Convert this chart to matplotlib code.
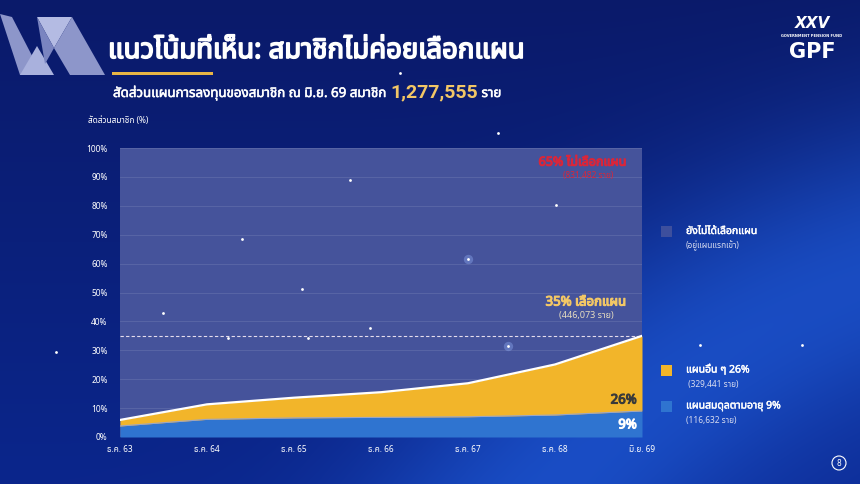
import numpy as np
import matplotlib
matplotlib.use("Agg")
import matplotlib.pyplot as plt
from matplotlib import font_manager
from matplotlib.ft2font import FT2Font
from matplotlib.patches import Polygon, Circle, Rectangle
import matplotlib.patheffects as pe

# ---------------- data ----------------
categories = ['ธ.ค. 63', 'ธ.ค. 64', 'ธ.ค. 65', 'ธ.ค. 66', 'ธ.ค. 67', 'ธ.ค. 68', 'มิ.ย. 69']
balanced = [3.8, 6.1, 6.6, 6.8, 7.0, 7.6, 9.0]      # แผนสมดุลตามอายุ
others = [2.1, 5.2, 7.0, 8.7, 11.6, 17.5, 26.0]     # แผนอื่น ๆ
y_ticks = [0, 10, 20, 30, 40, 50, 60, 70, 80, 90, 100]
chosen_level = 35

title = 'แนวโน้มที่เห็น: สมาชิกไม่ค่อยเลือกแผน'
subtitle_a = 'สัดส่วนแผนการลงทุนของสมาชิก ณ มิ.ย. 69 สมาชิก '
subtitle_num = '1,277,555'
subtitle_b = ' ราย'
ylabel = 'สัดส่วนสมาชิก (%)'

# ---------------- fonts ----------------
pref = ['Noto Sans Thai', 'Noto Sans Thai Looped', 'Sarabun', 'Kanit', 'Prompt',
        'Loma', 'Garuda', 'Norasi', 'Tlwg Typo', 'Waree']
thai = []
names = set()
for f in font_manager.fontManager.ttflist:
    names.add(f.name)
    try:
        ft = FT2Font(f.fname)
        if ft.get_char_index(0x0E01) and f.name not in thai:
            thai.append(f.name)
    except Exception:
        pass
thai_font = None
for p in pref:
    if p in thai:
        thai_font = p
        break
if thai_font is None and thai:
    thai_font = thai[0]
fams = ([thai_font] if thai_font else []) + ['DejaVu Sans']
plt.rcParams['font.family'] = fams
narrow = (['Liberation Sans Narrow'] if 'Liberation Sans Narrow' in names else ['Roboto']) + fams


def bold(c, w=0.7):
    return [pe.withStroke(linewidth=w, foreground=c)]


W, H = 860, 484
fig = plt.figure(figsize=(W / 100, H / 100), dpi=100)

# ---------------- background ----------------
bg = fig.add_axes([0, 0, 1, 1], zorder=0)
bg.set_xlim(0, W)
bg.set_ylim(H, 0)
bg.axis('off')

yy, xx = np.mgrid[0:H, 0:W].astype(float)
top = np.array([0x0a, 0x1a, 0x6a]) / 255
bot = np.array([0x0b, 0x26, 0x8c]) / 255
t = (yy / H)[..., None]
img = top * (1 - t) + bot * t
d = np.sqrt((xx - 1150) ** 2 + (yy - 1050) ** 2)
band = np.exp(-((d - 820) / 150) ** 2)
glow = np.array([0x1e, 0x5a, 0xd8]) / 255
img = img * (1 - 0.75 * band[..., None]) + glow * 0.75 * band[..., None]
inner = np.clip((760 - d) / 200, 0, 1)
img = img * (1 - 0.35 * inner[..., None]) + (np.array([0x10, 0x35, 0xa8]) / 255) * 0.35 * inner[..., None]
bg.imshow(np.clip(img, 0, 1), extent=(0, W, H, 0), aspect='auto', zorder=0)

# decorative M-shape top-left
polys = [
    ([(0, 14), (12, 17), (42, 75), (20, 75)], '#8d96ca'),
    ([(20, 75), (37, 46), (54, 75)], '#a9b1dd'),
    ([(37, 17), (72, 17), (54, 48)], '#b4bbe3'),
    ([(37, 17), (54, 48), (45, 64)], '#7a84c0'),
    ([(72, 17), (105, 75), (70, 75), (54, 48)], '#8d96ca'),
]
for pts, c in polys:
    bg.add_patch(Polygon(pts, closed=True, color=c, lw=0, zorder=1))

# title
bg.text(108, 51, title, color='white', fontsize=19.8, va='center', ha='left', zorder=3,
        path_effects=bold('white', 1.2))
bg.add_patch(Rectangle((112, 72), 101, 3, color='#e8b545', lw=0, zorder=3))

# subtitle chained
fig.canvas.draw()
r = fig.canvas.get_renderer()
t1 = bg.text(113, 97, subtitle_a, color='white', fontsize=9.6, va='baseline', ha='left', zorder=3,
             path_effects=bold('white', 0.4))
ext = t1.get_window_extent(r)
x1 = bg.transData.inverted().transform((ext.x1, ext.y0))[0]
t2 = bg.text(x1 + 1, 97.5, subtitle_num, color='#f2c766', fontsize=14, fontweight='bold',
             family=narrow, va='baseline', ha='left', zorder=3)
ext2 = t2.get_window_extent(r)
x2 = bg.transData.inverted().transform((ext2.x1, ext2.y0))[0]
bg.text(x2, 97, subtitle_b, color='white', fontsize=9.6, va='baseline', ha='left', zorder=3,
        path_effects=bold('white', 0.4))

bg.text(88, 121, ylabel, color='white', fontsize=6, va='center', ha='left', zorder=3)

# legend
leg = [
    (231.5, '#3d4f9d', 'ยังไม่ได้เลือกแผน', '(อยู่แผนแรกเข้า)'),
    (370, '#f2b52a', 'แผนอื่น ๆ 26%', ' (329,441 ราย)'),
    (406, '#2f74d0', 'แผนสมดุลตามอายุ 9%', '(116,632 ราย)'),
]
for yc, c, a, b in leg:
    bg.add_patch(Rectangle((661, yc - 5.5), 11, 11, color=c, lw=0, zorder=3))
    bg.text(686, yc, a, color='white', fontsize=7.5, va='center', ha='left', zorder=3,
            path_effects=bold('white', 0.3))
    bg.text(686, yc + 14, b, color='#d8dcf0', fontsize=6, va='center', ha='left', zorder=3)

# logo
bg.text(812, 24, 'XXV', color='white', fontsize=11, fontweight='bold', va='center', ha='center',
        family='DejaVu Sans', style='italic', zorder=3)
bg.text(812, 36, 'GOVERNMENT PENSION FUND', color='white', fontsize=2.6, va='center', ha='center',
        family='DejaVu Sans', fontweight='bold', zorder=3)
bg.text(812, 52, 'GPF', color='white', fontsize=15, fontweight='bold', va='center', ha='center',
        family='DejaVu Sans', zorder=3)

# page number
bg.add_patch(Circle((839, 463), 7, facecolor='none', edgecolor='white', lw=0.8, zorder=3))
bg.text(839, 463.5, '8', color='white', fontsize=5.5, va='center', ha='center', family='DejaVu Sans', zorder=3)

# ---------------- main chart ----------------
L, R, T, B = 120, 642, 148, 437
ax = fig.add_axes([L / W, 1 - B / H, (R - L) / W, (B - T) / H], zorder=2)
ax.set_facecolor('#45539b')
x = np.arange(len(categories))
bal = np.array(balanced)
tot = bal + np.array(others)
ax.fill_between(x, 0, bal, color='#2f74d0', lw=0, zorder=2)
ax.fill_between(x, bal, tot, color='#f2b52a', lw=0, zorder=2)
ax.plot(x, bal, color='#9aa6c8', lw=0.8, zorder=3)
ax.plot(x, tot, color='white', lw=1.6, zorder=4)
ax.axhline(chosen_level, color='#e4dced', lw=0.8, ls=(0, (3, 2)), zorder=1)

ax.set_xlim(0, len(categories) - 1)
ax.set_ylim(0, 100)
ax.set_yticks(y_ticks)
ax.set_yticklabels([f'{v}%' for v in y_ticks])
ax.set_xticks(x)
ax.set_xticklabels(categories)
ax.tick_params(colors='white', labelsize=6, length=0)
ax.tick_params(axis='y', pad=9)
ax.tick_params(axis='x', pad=6)
ax.grid(axis='y', color='white', alpha=0.12, lw=0.6, zorder=0)
ax.set_axisbelow(True)
for s in ax.spines.values():
    s.set_visible(False)

# annotations inside plot
ax.text(0.97, 0.951, '65% ไม่เลือกแผน', transform=ax.transAxes, color='#d9263a', fontsize=9,
        ha='right', va='center', zorder=5, path_effects=bold('#d9263a', 0.8))
ax.text(0.945, 0.906, '(831,482 ราย)', transform=ax.transAxes, color='#d9263a', fontsize=6,
        ha='right', va='center', zorder=5)
ax.text(0.97, 0.467, '35% เลือกแผน', transform=ax.transAxes, color='#f2c766', fontsize=9.5,
        ha='right', va='center', zorder=5, path_effects=bold('#f2c766', 0.8))
ax.text(0.945, 0.419, '(446,073 ราย)', transform=ax.transAxes, color='#e6dcc0', fontsize=6.5,
        ha='right', va='center', zorder=5)
ax.text(0.99, 0.128, '26%', transform=ax.transAxes, color='#3a3a3a', fontsize=9.5,
        ha='right', va='center', zorder=5, path_effects=bold('#3a3a3a', 0.8))
ax.text(0.99, 0.042, '9%', transform=ax.transAxes, color='white', fontsize=9.5,
        ha='right', va='center', zorder=5, path_effects=bold('white', 0.8))

# ---------------- overlay stars (decorative) ----------------
ov = fig.add_axes([0, 0, 1, 1], zorder=10)
ov.set_xlim(0, W)
ov.set_ylim(H, 0)
ov.axis('off')
ov.patch.set_alpha(0)
star_x = [163, 242, 302, 350, 370, 468, 508, 556, 498, 228, 308, 700, 802, 56, 400]
star_y = [313, 239, 289, 180, 328, 259, 346, 205, 133, 338, 338, 345, 345, 352, 73]
ov.scatter([468, 508], [259, 346], s=45, color='#9ab8ff', alpha=0.35, lw=0)
ov.scatter(star_x, star_y, s=4, color='white', lw=0)

fig.savefig('out.png', dpi=100)
